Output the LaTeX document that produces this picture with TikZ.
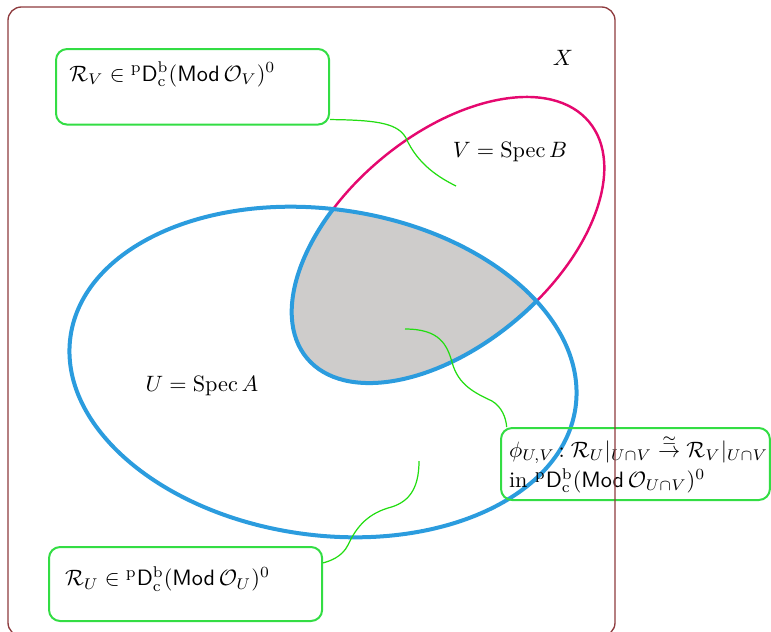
\documentclass[tikz,border=0pt]{standalone}
\usepackage{amsmath}
\usepackage{amsfonts}
\usepackage{amssymb}
\usepackage{xcolor}
\usepackage{tikz}
\usetikzlibrary{positioning, calc}

\definecolor{ublue}{HTML}{2B9CDE}
\definecolor{vpink}{HTML}{E5086F}
\definecolor{boxgreen}{HTML}{33DD44}
\definecolor{linkgreen}{HTML}{22DD11}
\definecolor{lensgray}{HTML}{CECCCB}
\definecolor{framebrown}{HTML}{8E3B3E}

\newcommand{\pDbc}{{}^{\mathrm{p}}\mathsf{D}^{\mathrm{b}}_{\mathrm{c}}}

\begin{document}
\begin{tikzpicture}[
  x=0.45pt, y=0.45pt,
  box/.style={
    draw=boxgreen, line width=0.9pt, rounded corners=5pt,
    anchor=north west, align=left, inner ysep=3pt
  },
  uline/.style={ublue, line width=1.8pt},
  vline/.style={vpink, line width=1.1pt},
  link/.style={linkgreen, line width=0.55pt}
]
\useasboundingbox (0,0) rectangle (771,-631);

% the two open sets
\begin{scope}
  \clip[rotate around={-8:(323,-372)}] (323,-372) ellipse [x radius=255, y radius=163];
  \fill[lensgray, rotate around={40:(448,-240)}] (448,-240) ellipse [x radius=184, y radius=105];
\end{scope}
\draw[vline, rotate around={40:(448,-240)}] (448,-240) ellipse [x radius=184, y radius=105];
\begin{scope}
  \clip[rotate around={-8:(323,-372)}] (323,-372) ellipse [x radius=255, y radius=163];
  \draw[uline, rotate around={40:(448,-240)}] (448,-240) ellipse [x radius=184, y radius=105];
\end{scope}
\draw[uline, rotate around={-8:(323,-372)}] (323,-372) ellipse [x radius=255, y radius=163];

\node (xlab) at (563,-58) {$X$};
\node (vlab) at (510,-152) {$V=\operatorname{Spec} B$};
\node (ulab) at (202,-386) {$U=\operatorname{Spec} A$};

% sheaves
\node[box, inner xsep=6pt, text width=110.9pt, text height=11.4pt, text depth=16.6pt] (rv) at (55,-48)
  {$\mathcal{R}_V \in \pDbc(\mathsf{Mod}\,\mathcal{O}_V)^0$};
\node[box, inner xsep=7.2pt, text width=108.5pt, text height=14.5pt, text depth=12.8pt] (ru) at (48,-546)
  {$\mathcal{R}_U \in \pDbc(\mathsf{Mod}\,\mathcal{O}_U)^0$};
\node[box, inner xsep=3.6pt, text width=113.8pt, minimum height=32.4pt] (phi) at (500,-427)
  {\mbox{$\phi_{U,V}\,{:}\; \mathcal{R}_U|_{U\cap V} \mathrel{\overset{\simeq}{\to}} \mathcal{R}_V|_{U\cap V}$}\\[1.5pt]
   \mbox{in ${}\pDbc(\mathsf{Mod}\,\mathcal{O}_{U\cap V})^0$}};

\coordinate (vtip) at (456,-186);
\coordinate (lenstip) at (405,-329);
\coordinate (utip) at (419,-461);

\draw[link] ([yshift=2.7pt]rv.south east) .. controls (380,-120) and (398,-124) .. (406,-138)
  .. controls (418,-165) and (440,-178) .. (vtip);
\draw[link] (lenstip) .. controls (440,-329) and (447,-345) .. (452,-362)
  .. controls (458,-385) and (475,-393) .. (492,-401)
  .. controls (502,-407) and (506,-418) .. ([xshift=3pt]phi.north west);
\draw[link] (utip) .. controls (419,-490) and (408,-503) .. (388,-508)
  .. controls (365,-515) and (355,-530) .. (348,-545)
  .. controls (342,-557) and (330,-561) .. ([yshift=-7.6pt]ru.north east);

\draw[framebrown, line width=0.6pt, rounded corners=6pt] (8,-7) rectangle (615,-636);

\end{tikzpicture}
\end{document}
